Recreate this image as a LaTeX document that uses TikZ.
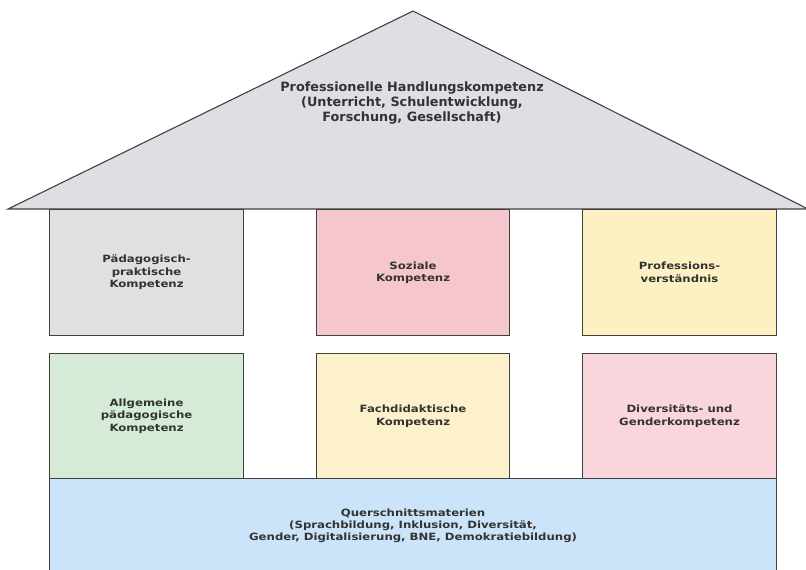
\documentclass[tikz,border=0pt]{standalone}
\usepackage{fontspec}
\setmainfont{DejaVu Sans}
\newfontfamily\widefont[FakeStretch=1.17]{DejaVu Sans}
\begin{document}
\begin{tikzpicture}[x=1pt,y=-1pt,
  box/.style={draw=black!75,line width=1.1pt,anchor=north west,inner sep=0pt,align=center,
    font=\widefont\fontsize{10}{12.6}\selectfont\bfseries,text=black!80},
  lbl/.style={align=center,text=black!80}]
\useasboundingbox (0,0) rectangle (806,570);
\definecolor{roofc}{HTML}{DDDFE4}
\definecolor{grayc}{HTML}{DFE0E2}
\definecolor{pinkc}{HTML}{F5C7CD}
\definecolor{yellc}{HTML}{FDF0C2}
\definecolor{greenc}{HTML}{D5EBD8}
\definecolor{yell2c}{HTML}{FDF1CB}
\definecolor{pink2c}{HTML}{F8D6DC}
\definecolor{bluec}{HTML}{CBE4F9}
\draw[draw=black!75,line width=1.1pt,fill=roofc] (8,209) -- (413,11) -- (808,209) -- cycle;
\node[lbl,font=\fontsize{12.8}{15}\selectfont\bfseries] (roof) at (412,103)
  {Professionelle Handlungskompetenz\\(Unterricht, Schulentwicklung,\\Forschung, Gesellschaft)};
\node[box,fill=grayc,minimum width=194pt,minimum height=126pt] (a1) at (49,209) {Pädagogisch-\\praktische\\Kompetenz};
\node[box,fill=pinkc,minimum width=193pt,minimum height=126pt] (a2) at (316,209) {Soziale\\Kompetenz};
\node[box,fill=yellc,minimum width=194pt,minimum height=126pt] (a3) at (582,209) {Professions-\\verständnis};
\node[box,fill=greenc,minimum width=194pt,minimum height=125pt] (b1) at (49,353) {Allgemeine\\pädagogische\\Kompetenz};
\node[box,fill=yell2c,minimum width=193pt,minimum height=125pt] (b2) at (316,353) {Fachdidaktische\\Kompetenz};
\node[box,fill=pink2c,minimum width=194pt,minimum height=125pt] (b3) at (582,353) {Diversitäts- und\\Genderkompetenz};
\node[box,fill=bluec,minimum width=727pt,minimum height=94pt,font=\widefont\fontsize{10}{12.2}\selectfont\bfseries] (base) at (49,478)
  {Querschnittsmaterien\\(Sprachbildung, Inklusion, Diversität,\\Gender, Digitalisierung, BNE, Demokratiebildung)};
\end{tikzpicture}
\end{document}
